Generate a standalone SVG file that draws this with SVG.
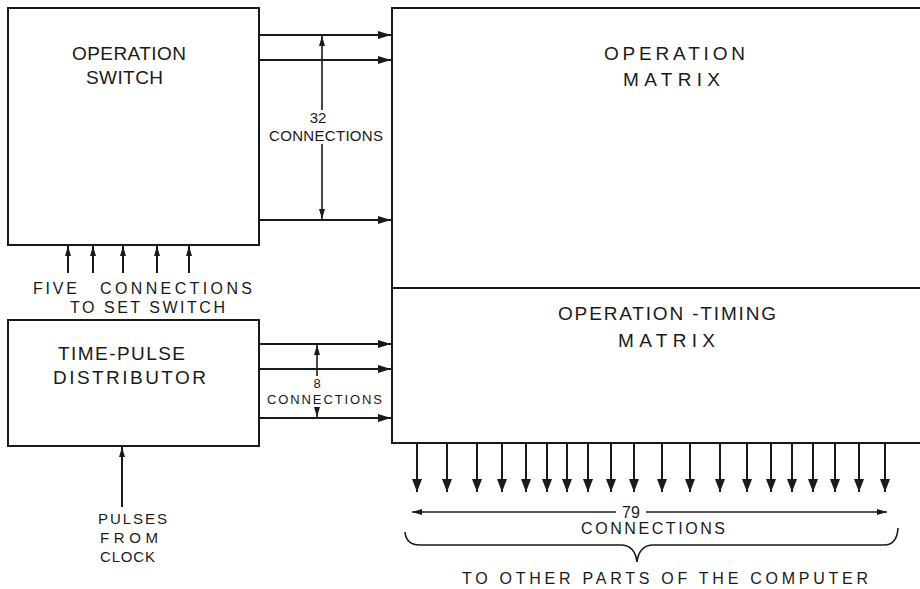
<svg xmlns="http://www.w3.org/2000/svg" width="920" height="589" viewBox="0 0 920 589">
<defs>
<style>
.box{fill:none;stroke:#1a1a1a;stroke-width:2}
.ln{fill:none;stroke:#1a1a1a;stroke-width:2}
.thin{fill:none;stroke:#1a1a1a;stroke-width:1.6}
text{font-family:"Liberation Sans","DejaVu Sans",sans-serif;fill:#1a1a1a}
.big{font-size:19px}
.mid{font-size:16px}
.sm{font-size:15px}
.xs{font-size:13px}
</style>
<marker id="ah" viewBox="0 0 13 8" refX="13" refY="4" markerWidth="13" markerHeight="8" orient="auto" markerUnits="userSpaceOnUse"><path d="M0,0 L13,4 L0,8 z" fill="#1a1a1a"/></marker>
<marker id="ahb" viewBox="0 0 13 10" refX="13" refY="5" markerWidth="13" markerHeight="10" orient="auto" markerUnits="userSpaceOnUse"><path d="M0,0 L13,5 L0,10 z" fill="#1a1a1a"/></marker>
<marker id="ahs" viewBox="0 0 10 6" refX="10" refY="3" markerWidth="10" markerHeight="6" orient="auto" markerUnits="userSpaceOnUse"><path d="M0,0 L10,3 L0,6 z" fill="#1a1a1a"/></marker>
</defs>
<rect width="920" height="589" fill="#ffffff"/>

<g id="operation-switch">
<rect class="box" x="8" y="8" width="251" height="237"/>
<text class="big" x="72" y="60" textLength="114" lengthAdjust="spacing">OPERATION</text>
<text class="big" x="86" y="84" textLength="77" lengthAdjust="spacing">SWITCH</text>
</g>

<g id="time-pulse-distributor">
<rect class="box" x="8" y="320" width="251" height="126"/>
<text class="big" x="58" y="360" textLength="127" lengthAdjust="spacing">TIME-PULSE</text>
<text class="big" x="53" y="384" textLength="153" lengthAdjust="spacing">DISTRIBUTOR</text>
</g>

<g id="operation-matrix">
<rect class="box" x="392" y="8" width="545" height="435"/>
<line class="ln" x1="392" y1="288" x2="920" y2="288"/>
<text class="big" x="604" y="60" textLength="141" lengthAdjust="spacing">OPERATION</text>
<text class="big" x="623" y="86" textLength="97" lengthAdjust="spacing">MATRIX</text>
</g>

<g id="operation-timing-matrix">
<text class="big" x="558" y="320" textLength="218" lengthAdjust="spacing">OPERATION -TIMING</text>
<text class="big" x="618" y="347" textLength="97" lengthAdjust="spacing">MATRIX</text>
</g>

<g id="labels">
<text class="sm" x="318" y="123" text-anchor="middle">32</text>
<text class="sm" x="269" y="141" textLength="114" lengthAdjust="spacing">CONNECTIONS</text>
<text class="mid" y="294"><tspan x="33" textLength="44" lengthAdjust="spacing">FIVE</tspan><tspan x="100" textLength="152" lengthAdjust="spacing">CONNECTIONS</tspan></text>
<text class="mid" x="70" y="313" textLength="155" lengthAdjust="spacing">TO SET SWITCH</text>
<text class="xs" x="317" y="388" text-anchor="middle">8</text>
<text class="xs" x="267" y="404" textLength="115" lengthAdjust="spacing">CONNECTIONS</text>
<text class="sm" x="98" y="524" textLength="69" lengthAdjust="spacing">PULSES</text>
<text class="sm" x="100" y="543" textLength="58" lengthAdjust="spacing">FROM</text>
<text class="sm" x="100" y="562" textLength="55" lengthAdjust="spacing">CLOCK</text>
<text class="mid" x="631" y="518" text-anchor="middle" font-size="18">79</text>
<text class="mid" x="581" y="534" textLength="144" lengthAdjust="spacing">CONNECTIONS</text>
<text class="mid" x="462" y="584" textLength="406" lengthAdjust="spacing">TO OTHER PARTS OF THE COMPUTER</text>
</g>

<g id="connectors">
<line class="ln" x1="259" y1="35" x2="391" y2="35" marker-end="url(#ah)"/>
<line class="ln" x1="259" y1="60" x2="391" y2="60" marker-end="url(#ah)"/>
<line class="ln" x1="259" y1="220" x2="391" y2="220" marker-end="url(#ah)"/>
<line class="thin" x1="322" y1="110" x2="322" y2="36" marker-end="url(#ahs)"/>
<line class="thin" x1="322" y1="144" x2="322" y2="219" marker-end="url(#ahs)"/>
<line class="ln" x1="68" y1="273" x2="68" y2="246" marker-end="url(#ahs)"/>
<line class="ln" x1="93" y1="273" x2="93" y2="246" marker-end="url(#ahs)"/>
<line class="ln" x1="123" y1="273" x2="123" y2="246" marker-end="url(#ahs)"/>
<line class="ln" x1="157" y1="273" x2="157" y2="246" marker-end="url(#ahs)"/>
<line class="ln" x1="189" y1="273" x2="189" y2="246" marker-end="url(#ahs)"/>
<line class="ln" x1="259" y1="344" x2="391" y2="344" marker-end="url(#ah)"/>
<line class="ln" x1="259" y1="369" x2="391" y2="369" marker-end="url(#ah)"/>
<line class="ln" x1="259" y1="418" x2="391" y2="418" marker-end="url(#ah)"/>
<line class="thin" x1="317" y1="376" x2="317" y2="345" marker-end="url(#ahs)"/>
<line class="thin" x1="317" y1="407" x2="317" y2="417" marker-end="url(#ahs)"/>
<line class="ln" x1="122" y1="507" x2="122" y2="447" marker-end="url(#ahs)"/>
<g class="ln">
<line x1="417" y1="443" x2="417" y2="492" marker-end="url(#ahb)"/>
<line x1="447" y1="443" x2="447" y2="492" marker-end="url(#ahb)"/>
<line x1="477" y1="443" x2="477" y2="492" marker-end="url(#ahb)"/>
<line x1="502" y1="443" x2="502" y2="492" marker-end="url(#ahb)"/>
<line x1="526" y1="443" x2="526" y2="492" marker-end="url(#ahb)"/>
<line x1="547" y1="443" x2="547" y2="492" marker-end="url(#ahb)"/>
<line x1="567" y1="443" x2="567" y2="492" marker-end="url(#ahb)"/>
<line x1="588" y1="443" x2="588" y2="492" marker-end="url(#ahb)"/>
<line x1="611" y1="443" x2="611" y2="492" marker-end="url(#ahb)"/>
<line x1="634" y1="443" x2="634" y2="492" marker-end="url(#ahb)"/>
<line x1="662" y1="443" x2="662" y2="492" marker-end="url(#ahb)"/>
<line x1="690" y1="443" x2="690" y2="492" marker-end="url(#ahb)"/>
<line x1="720" y1="443" x2="720" y2="492" marker-end="url(#ahb)"/>
<line x1="747" y1="443" x2="747" y2="492" marker-end="url(#ahb)"/>
<line x1="771" y1="443" x2="771" y2="492" marker-end="url(#ahb)"/>
<line x1="792" y1="443" x2="792" y2="492" marker-end="url(#ahb)"/>
<line x1="813" y1="443" x2="813" y2="492" marker-end="url(#ahb)"/>
<line x1="835" y1="443" x2="835" y2="492" marker-end="url(#ahb)"/>
<line x1="859" y1="443" x2="859" y2="492" marker-end="url(#ahb)"/>
<line x1="885" y1="443" x2="885" y2="492" marker-end="url(#ahb)"/>
</g>
<line class="thin" x1="616" y1="512" x2="412" y2="512" marker-end="url(#ahs)"/>
<line class="thin" x1="646" y1="512" x2="887" y2="512" marker-end="url(#ahs)"/>
<path class="thin" d="M405,532 Q406,545 420,545 L622,545 Q635,546 637,562 Q639,546 652,545 L884,545 Q897,545 898,528"/>
</g>
</svg>
